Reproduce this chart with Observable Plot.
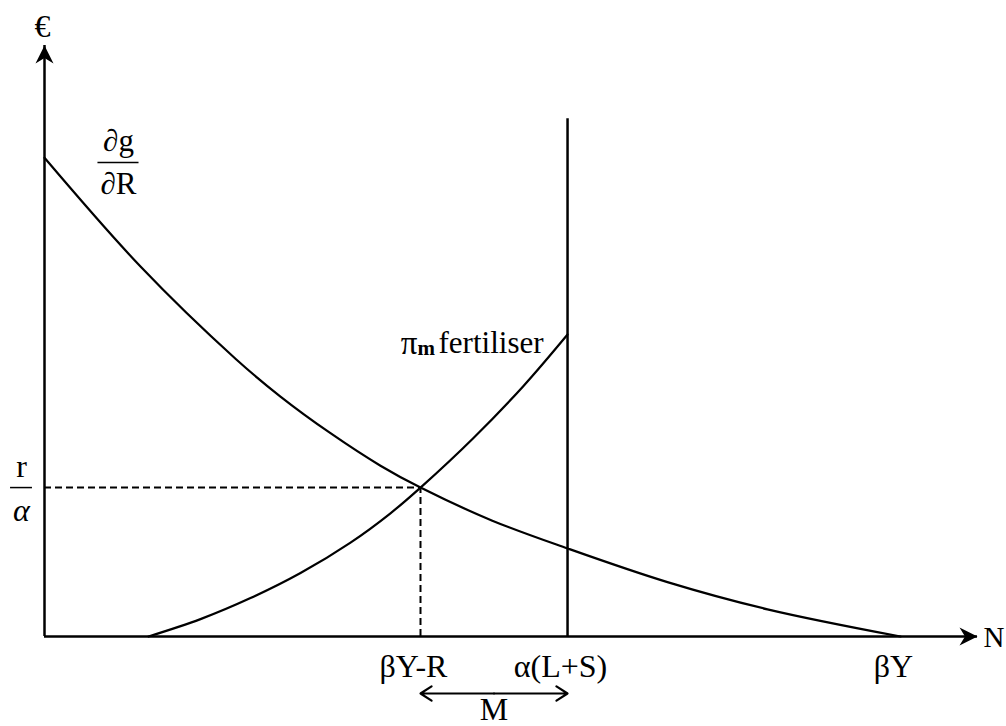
<!DOCTYPE html>
<html>
<head>
<meta charset="utf-8">
<script src="https://cdn.jsdelivr.net/npm/d3@7"></script>
<script src="https://cdn.jsdelivr.net/npm/@observablehq/plot@0.6"></script>
<style>
  html, body { margin: 0; padding: 0; background: #fff; }
</style>
</head>
<body>
<div id="chart"></div>
<script>
// ---- data (arbitrary units: N on x, € on y) ----
const marginalGainX = [0, 10.29, 20.47, 25.29, 30.65, 36.01, 40.30, 48.0, 56.06, 66.77, 77.49, 91.75];
const marginalGainY = [81.0, 62.6, 47.0, 40.6, 34.4, 28.9, 25.2, 19.6, 14.9, 9.2, 4.6, 0];
const fertiliserX = [11.15, 16.72, 22.08, 27.44, 32.80, 37.08, 40.30, 45.98, 51.34, 56.06];
const fertiliserY = [0, 2.94, 6.50, 10.74, 15.89, 20.85, 25.2, 33.6, 42.4, 51.1];
const equilibriumN = 40.30;     // βY-R
const equilibriumPrice = 25.2;  // r/α
const capacityN = 56.06;        // α(L+S)
const capacityTop = 87.6;
const xTickValues = [40.30, 56.06, 91.75];
const xTickLabels = ["βY-R", "α(L+S)", "βY"];
const xDomain = [0, 100];
const yDomain = [0, 100];

const marginalGain = marginalGainX.map((x, i) => ({x, y: marginalGainY[i]}));
const fertiliser = fertiliserX.map((x, i) => ({x, y: fertiliserY[i]}));
const xTicks = xTickValues.map((x, i) => ({x, label: xTickLabels[i]}));
const mid = (equilibriumN + capacityN) / 2;

// filled "stealth" arrowhead pointing up, tip at origin
const stealth = {
  draw(ctx) {
    ctx.moveTo(0, 0);
    ctx.lineTo(-9, 18);
    ctx.lineTo(0, 12.5);
    ctx.lineTo(9, 18);
    ctx.closePath();
  }
};

const font = "'Liberation Serif', 'Times New Roman', serif";

const chart = Plot.plot({
  width: 1006,
  height: 726,
  marginLeft: 44,
  marginRight: 29,
  marginTop: 45,
  marginBottom: 90,
  x: {domain: xDomain, axis: null},
  y: {domain: yDomain, axis: null},
  style: {fontFamily: font, fontSize: "30px", background: "#fff", color: "#000"},
  marks: [
    // axes
    Plot.ruleY([0], {x1: xDomain[0], x2: xDomain[1], stroke: "#000", strokeWidth: 2.5}),
    Plot.ruleX([0], {y1: yDomain[0], y2: yDomain[1], stroke: "#000", strokeWidth: 2.5}),
    Plot.dot([{x: xDomain[0], y: yDomain[1], a: 0}, {x: xDomain[1], y: yDomain[0], a: 90}],
      {x: "x", y: "y", rotate: "a", symbol: stealth, fill: "#000", stroke: "none"}),
    // dashed guides
    Plot.ruleY([equilibriumPrice], {x1: 0, x2: equilibriumN, stroke: "#000", strokeWidth: 2, strokeDasharray: "7,4"}),
    Plot.ruleX([equilibriumN], {y1: 0, y2: equilibriumPrice, stroke: "#000", strokeWidth: 2, strokeDasharray: "7,4"}),
    // capacity line
    Plot.ruleX([capacityN], {y1: 0, y2: capacityTop, stroke: "#000", strokeWidth: 2.5}),
    // curves
    Plot.line(marginalGain, {x: "x", y: "y", curve: "catmull-rom", stroke: "#000", strokeWidth: 2.2}),
    Plot.line(fertiliser, {x: "x", y: "y", curve: "catmull-rom", stroke: "#000", strokeWidth: 2.2}),
    // x tick labels
    Plot.text(xTicks, {x: "x", y: 0, text: "label", dy: 30, dx: -7, fontSize: 32}),
    // axis names
    Plot.text(["€"], {x: xDomain[0], y: yDomain[1], dy: -19, dx: -2, fontSize: 32}),
    Plot.text(["N"], {x: xDomain[1], y: yDomain[0], dx: 6, dy: 1, textAnchor: "start", fontSize: 29}),
    // r / α fraction
    Plot.ruleY([equilibriumPrice], {x1: -3.64, x2: -1.29, stroke: "#000", strokeWidth: 1.5}),
    Plot.text(["r"], {x: -2.47, y: equilibriumPrice, dy: -21, fontSize: 32}),
    Plot.text(["α"], {x: -2.47, y: equilibriumPrice, dy: 23, fontSize: 32, fontStyle: "italic"}),
    // ∂g / ∂R fraction
    Plot.ruleY([80.2], {x1: 5.73, x2: 10.13, stroke: "#000", strokeWidth: 1.5}),
    Plot.text(["∂g"], {x: 7.93, y: 80.2, dy: -21, fontSize: 31}),
    Plot.text(["∂R"], {x: 7.93, y: 80.2, dy: 22, fontSize: 31}),
    // π_m fertiliser
    Plot.text(["fertiliser"], {x: capacityN, y: fertiliserY[fertiliserY.length - 1], dx: -24, dy: 9, textAnchor: "end", fontSize: 31}),
    Plot.text(["π"], {x: capacityN, y: fertiliserY[fertiliserY.length - 1], dx: -150, dy: 9, textAnchor: "end", fontSize: 33}),
    Plot.text(["m"], {x: capacityN, y: fertiliserY[fertiliserY.length - 1], dx: -150, dy: 14, textAnchor: "start", fontSize: 21, fontWeight: "bold"}),
    // M double arrow
    Plot.arrow([{x1: mid, x2: equilibriumN}, {x1: mid, x2: capacityN}],
      {x1: "x1", x2: "x2", y1: 0, y2: 0, dy: 57, stroke: "#000", strokeWidth: 2.2, headLength: 9, headAngle: 66}),
    Plot.text(["M"], {x: mid, y: 0, dy: 73, fontSize: 32})
  ]
});

document.getElementById("chart").appendChild(chart);
</script>
</body>
</html>
